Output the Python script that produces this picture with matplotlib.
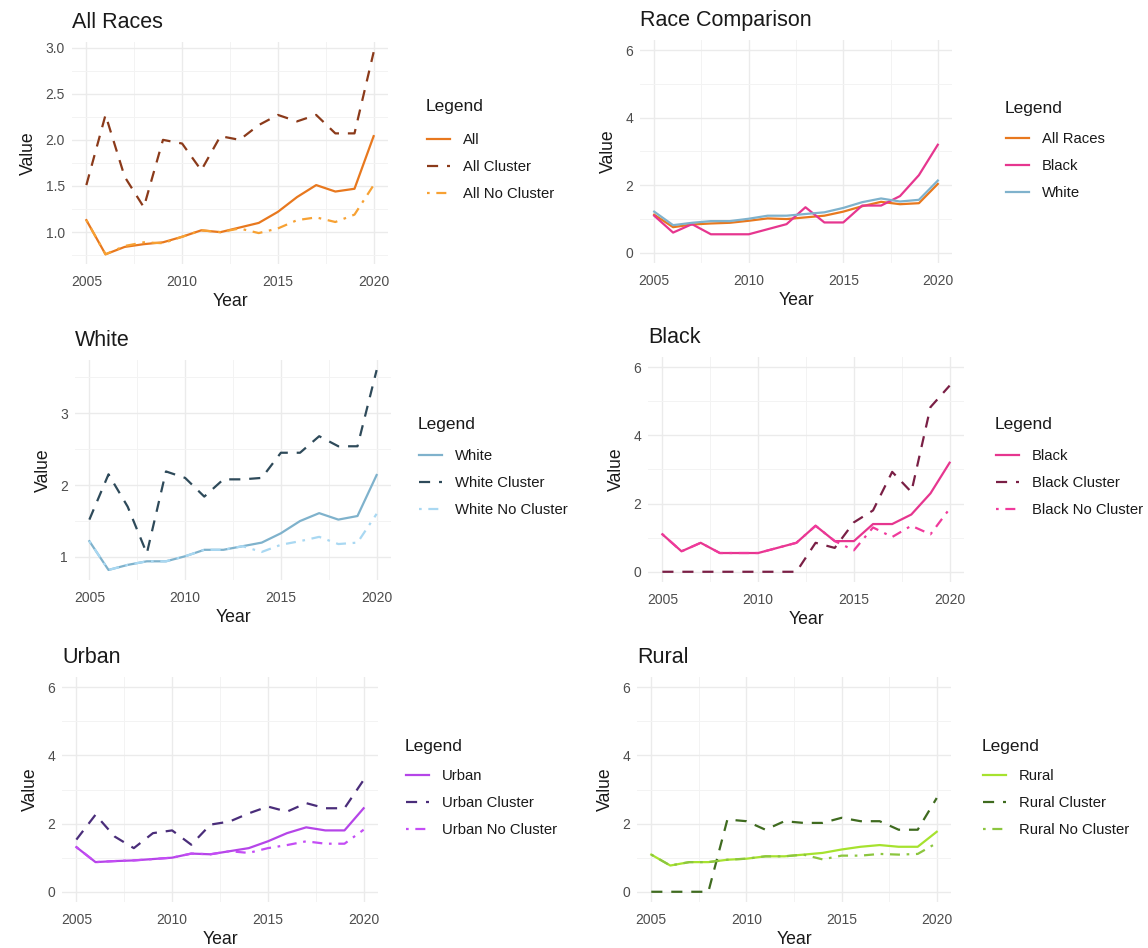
import matplotlib
matplotlib.use("Agg")
import matplotlib.pyplot as plt
from matplotlib.ticker import FixedLocator, FormatStrFormatter

plt.rcParams['font.family'] = ['Liberation Sans', 'DejaVu Sans']

W, H = 1148, 948

years = list(range(2005, 2021))

# ---- All Races ----
all_total = [1.13, 0.76, 0.84, 0.87, 0.89, 0.95, 1.02, 1.00, 1.05, 1.10, 1.22, 1.38, 1.51, 1.44, 1.47, 2.04]
all_cluster = [1.51, 2.27, 1.60, 1.27, 2.00, 1.96, 1.67, 2.04, 2.00, 2.16, 2.27, 2.20, 2.27, 2.07, 2.07, 2.95]
all_nocluster = [1.13, 0.76, 0.85, 0.89, 0.88, 0.95, 1.02, 1.00, 1.04, 0.99, 1.04, 1.13, 1.16, 1.11, 1.19, 1.51]

# ---- White ----
white_total = [1.22, 0.82, 0.89, 0.94, 0.94, 1.01, 1.10, 1.10, 1.15, 1.20, 1.33, 1.50, 1.61, 1.52, 1.57, 2.14]
white_cluster = [1.52, 2.15, 1.70, 1.05, 2.19, 2.10, 1.84, 2.08, 2.08, 2.10, 2.45, 2.45, 2.68, 2.54, 2.54, 3.60]
white_nocluster = [1.22, 0.82, 0.89, 0.94, 0.94, 1.01, 1.10, 1.10, 1.15, 1.07, 1.17, 1.22, 1.28, 1.18, 1.20, 1.60]

# ---- Black ----
black_total = [1.10, 0.60, 0.85, 0.55, 0.55, 0.55, 0.70, 0.85, 1.35, 0.90, 0.90, 1.40, 1.40, 1.68, 2.30, 3.20]
black_cluster = [0, 0, 0, 0, 0, 0, 0, 0, 0.85, 0.70, 1.45, 1.80, 2.93, 2.34, 4.83, 5.46]
black_nocluster = [1.10, 0.60, 0.85, 0.55, 0.55, 0.55, 0.70, 0.85, 1.35, 0.90, 0.63, 1.30, 1.02, 1.35, 1.10, 1.85]

# ---- Urban ----
urban_total = [1.31, 0.87, 0.90, 0.92, 0.96, 1.00, 1.12, 1.10, 1.19, 1.28, 1.48, 1.72, 1.89, 1.80, 1.80, 2.45]
urban_cluster = [1.53, 2.26, 1.62, 1.28, 1.72, 1.80, 1.38, 1.97, 2.06, 2.30, 2.50, 2.35, 2.60, 2.45, 2.45, 3.28]
urban_nocluster = [1.31, 0.87, 0.90, 0.92, 0.96, 1.00, 1.12, 1.10, 1.19, 1.14, 1.28, 1.37, 1.48, 1.41, 1.41, 1.82]

# ---- Rural ----
rural_total = [1.09, 0.77, 0.87, 0.87, 0.94, 0.97, 1.04, 1.04, 1.09, 1.14, 1.24, 1.32, 1.37, 1.32, 1.32, 1.76]
rural_cluster = [0, 0, 0, 0, 2.12, 2.07, 1.82, 2.07, 2.02, 2.02, 2.17, 2.07, 2.07, 1.82, 1.82, 2.75]
rural_nocluster = [1.09, 0.77, 0.87, 0.87, 0.94, 0.97, 1.04, 1.04, 1.09, 0.95, 1.06, 1.06, 1.11, 1.09, 1.11, 1.43]

SOLID = '-'
DASH = (0, (5, 4))
DOTDASH = (0, (1.2, 3, 4.5, 3))

C_ALL, C_ALL_CL, C_ALL_NC = '#E8781E', '#8B3A1A', '#F7A133'
C_WH, C_WH_CL, C_WH_NC = '#7FB2CC', '#2E4A5A', '#A9D8F2'
C_BL, C_BL_CL, C_BL_NC = '#E6368F', '#7A1F45', '#F03A9C'
C_UR, C_UR_CL, C_UR_NC = '#B545E8', '#4A2D7A', '#C44DF5'
C_RU, C_RU_CL, C_RU_NC = '#A6E22E', '#3F6B1F', '#8CC63F'

TXT = '#1A1A1A'

fig = plt.figure(figsize=(W / 100, H / 100), dpi=100)


def box(l, t, r, b):
    return [l / W, 1 - b / H, (r - l) / W, (b - t) / H]


def style(ax, title, yticks, fmt, ylim=None):
    ax.set_xlim(2004.25, 2020.75)
    if ylim is not None:
        ax.set_ylim(*ylim)
    for s in ax.spines.values():
        s.set_visible(False)
    ax.xaxis.set_major_locator(FixedLocator([2005, 2010, 2015, 2020]))
    ax.xaxis.set_minor_locator(FixedLocator([2007.5, 2012.5, 2017.5]))
    ax.yaxis.set_major_locator(FixedLocator(yticks))
    step = yticks[1] - yticks[0]
    minors = [yticks[0] - step / 2] + [y + step / 2 for y in yticks]
    ax.yaxis.set_minor_locator(FixedLocator(minors))
    ax.yaxis.set_major_formatter(FormatStrFormatter(fmt))
    ax.grid(which='major', color='#EBEBEB', linewidth=1.0)
    ax.grid(which='minor', color='#F3F3F3', linewidth=0.7)
    ax.set_axisbelow(True)
    ax.tick_params(which='both', length=0, labelsize=10, labelcolor='#4D4D4D')
    ax.tick_params(axis='x', pad=8)
    ax.tick_params(axis='y', pad=5)
    ax.set_xlabel('Year', fontsize=12.7, color=TXT, labelpad=3)
    ax.set_ylabel('Value', fontsize=12.7, color=TXT, labelpad=6)
    ax.set_title(title, loc='left', fontsize=15.5, color=TXT, pad=10, x=0.0)


def legend(ax, tx, ty, first_y):
    fig.text(tx / W, 1 - ty / H, 'Legend', fontsize=12.5, color=TXT,
             ha='left', va='center')
    lg = ax.legend(loc='upper left', bbox_to_anchor=((tx + 1) / W, 1 - (first_y - 7.5) / H),
                   bbox_transform=fig.transFigure, frameon=False,
                   fontsize=10.7, handlelength=1.55, handletextpad=0.85,
                   labelspacing=0.85, borderpad=0, borderaxespad=0)
    for t in lg.get_texts():
        t.set_color(TXT)


LW = 1.6

# Panel 1: All Races
ax1 = fig.add_axes(box(72, 42, 388, 264))
ax1.plot(years, all_total, color=C_ALL, lw=LW, ls=SOLID, label='All')
ax1.plot(years, all_cluster, color=C_ALL_CL, lw=LW, ls=DASH, label='All Cluster')
ax1.plot(years, all_nocluster, color=C_ALL_NC, lw=LW, ls=DOTDASH, label='All No Cluster')
style(ax1, 'All Races', [1.0, 1.5, 2.0, 2.5, 3.0], '%.1f', (0.655, 3.06))
legend(ax1, 426, 107, 141)

# Panel 2: Race Comparison
ax2 = fig.add_axes(box(640, 40, 952, 263))
ax2.plot(years, all_total, color=C_ALL, lw=LW, label='All Races')
ax2.plot(years, black_total, color=C_BL, lw=LW, label='Black')
ax2.plot(years, white_total, color=C_WH, lw=LW, label='White')
style(ax2, 'Race Comparison', [0, 2, 4, 6], '%d', (-0.3, 6.3))
legend(ax2, 1005, 108, 140)

# Panel 3: White
ax3 = fig.add_axes(box(75, 360, 391, 580))
ax3.plot(years, white_total, color=C_WH, lw=LW, ls=SOLID, label='White')
ax3.plot(years, white_cluster, color=C_WH_CL, lw=LW, ls=DASH, label='White Cluster')
ax3.plot(years, white_nocluster, color=C_WH_NC, lw=LW, ls=DOTDASH, label='White No Cluster')
style(ax3, 'White', [1, 2, 3], '%d', (0.68, 3.74))
legend(ax3, 418, 425, 457)

# Panel 4: Black
ax4 = fig.add_axes(box(648, 357, 964, 582))
ax4.plot(years, black_total, color=C_BL, lw=LW, ls=SOLID, label='Black')
ax4.plot(years, black_cluster, color=C_BL_CL, lw=LW, ls=DASH, label='Black Cluster')
ax4.plot(years, black_nocluster, color=C_BL_NC, lw=LW, ls=DOTDASH, label='Black No Cluster')
style(ax4, 'Black', [0, 2, 4, 6], '%d', (-0.3, 6.3))
legend(ax4, 995, 425, 457)

# Panel 5: Urban
ax5 = fig.add_axes(box(62, 677, 378, 902))
ax5.plot(years, urban_total, color=C_UR, lw=LW, ls=SOLID, label='Urban')
ax5.plot(years, urban_cluster, color=C_UR_CL, lw=LW, ls=DASH, label='Urban Cluster')
ax5.plot(years, urban_nocluster, color=C_UR_NC, lw=LW, ls=DOTDASH, label='Urban No Cluster')
style(ax5, 'Urban', [0, 2, 4, 6], '%d', (-0.3, 6.3))
legend(ax5, 405, 747, 777)

# Panel 6: Rural
ax6 = fig.add_axes(box(637, 677, 951, 902))
ax6.plot(years, rural_total, color=C_RU, lw=LW, ls=SOLID, label='Rural')
ax6.plot(years, rural_cluster, color=C_RU_CL, lw=LW, ls=DASH, label='Rural Cluster')
ax6.plot(years, rural_nocluster, color=C_RU_NC, lw=LW, ls=DOTDASH, label='Rural No Cluster')
style(ax6, 'Rural', [0, 2, 4, 6], '%d', (-0.3, 6.3))
legend(ax6, 982, 747, 777)

fig.savefig('out.png', dpi=100, facecolor='white')
